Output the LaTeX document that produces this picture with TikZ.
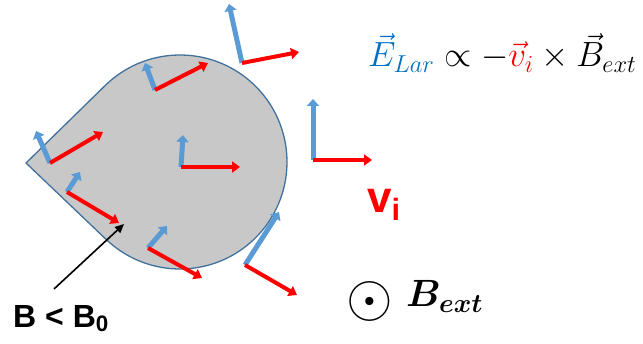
\RequirePackage{fix-cm}
\documentclass[tikz,border=0pt]{standalone}
\usepackage{amsmath}
\usepackage{fontspec}
\usepackage{tikz}
\usetikzlibrary{arrows.meta, calc}
\newfontfamily\arialfont{Liberation Sans}
\definecolor{lumpgray}{RGB}{200,200,200}
\definecolor{lumpedge}{RGB}{65,113,156}
\definecolor{efblue}{RGB}{91,155,213}
\definecolor{eqblue}{RGB}{0,112,192}

\begin{document}
\begin{tikzpicture}[x=1pt, y=1pt,
    vel/.style={draw=red, line width=4pt, -{Triangle[length=8pt, width=11pt]}},
    efld/.style={draw=efblue, line width=5pt, -{Triangle[length=7pt, width=12pt]}},
    lump/.style={fill=lumpgray, draw=lumpedge, line width=1.3pt, line join=round}]
    \useasboundingbox (0,0) rectangle (643,343);

    % 形状
    \coordinate (c) at (180,181);
    \coordinate (tip) at (26,180);
    \draw[lump] (tip) -- ($(c)+(134:107)$) arc[start angle=134, end angle=-134, radius=107] -- cycle;

    % 起点
    \coordinate (o1) at (242,280);
    \coordinate (o2) at (155,253);
    \coordinate (o3) at (313,183);
    \coordinate (o4) at (181,176);
    \coordinate (o5) at (50,180);
    \coordinate (o6) at (67,151);
    \coordinate (o7) at (148,95);
    \coordinate (o8) at (245,78);

    % 速度 v
    \coordinate (v1) at (299,291);
    \coordinate (v2) at (208,280);
    \coordinate (v3) at (372,183);
    \coordinate (v4) at (240,176);
    \coordinate (v5) at (103,211);
    \coordinate (v6) at (119,120);
    \coordinate (v7) at (202,65);
    \coordinate (v8) at (297,48);

    % 电场 E
    \coordinate (e1) at (229,339);
    \coordinate (e2) at (145,280);
    \coordinate (e3) at (313,244);
    \coordinate (e4) at (183,208);
    \coordinate (e5) at (36,212);
    \coordinate (e6) at (80,171);
    \coordinate (e7) at (167,117);
    \coordinate (e8) at (279,131);

    % 箭头
    \draw[efld] (o1) -- (e1);
    \draw[efld] (o2) -- (e2);
    \draw[efld] (o3) -- (e3);
    \draw[efld] (o4) -- (e4);
    \draw[efld] (o5) -- (e5);
    \draw[efld] (o6) -- (e6);
    \draw[efld] (o7) -- (e7);
    \draw[efld] (o8) -- (e8);
    \draw[vel] (o1) -- (v1);
    \draw[vel] (o2) -- (v2);
    \draw[vel] (o3) -- (v3);
    \draw[vel] (o4) -- (v4);
    \draw[vel] (o5) -- (v5);
    \draw[vel] (o6) -- (v6);
    \draw[vel] (o7) -- (v7);
    \draw[vel] (o8) -- (v8);

    % 标签
    \node[anchor=base west, inner sep=0pt, font=\fontsize{35}{40}\selectfont] (law) at (368,276)
        {$\color{eqblue}\vec{E}_{Lar}\color{black} \propto -{\color{red}\vec{v}_i}\times\vec{B}_{ext}$};
    \node[anchor=base west, inner sep=0pt, text=red, font=\arialfont\bfseries\fontsize{44}{50}\selectfont] (vi) at (367,130)
        {v\textsubscript{i}};
    \node[anchor=base west, inner sep=0pt, font=\arialfont\bfseries\fontsize{32}{38}\selectfont] (bin) at (13,16)
        {B < B\textsubscript{0}};
    \node[inner sep=0pt, font=\fontsize{60}{66}\selectfont] (dot) at (370,42) {$\odot$};
    \node[anchor=base west, inner sep=0pt, font=\fontsize{38}{44}\selectfont] (bext) at (406,36)
        {$\boldsymbol{B_{ext}}$};
    \coordinate (pt) at (54,54);
    \draw[line width=1.6pt, -{Triangle[length=9pt, width=8pt]}] (pt) -- (124,119);
\end{tikzpicture}
\end{document}
